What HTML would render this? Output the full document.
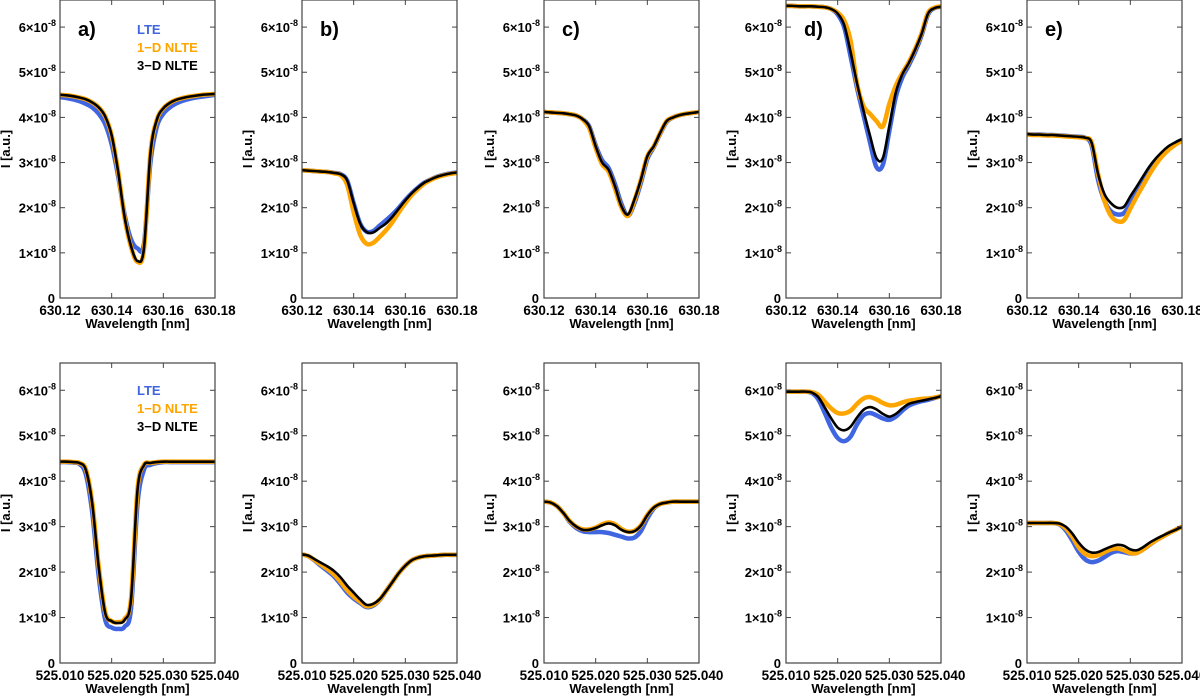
<!DOCTYPE html>
<html><head><meta charset="utf-8"><style>
html,body{margin:0;padding:0;background:#fff;}
svg{display:block;font-family:"Liberation Sans",Arial,sans-serif;font-weight:bold;}
</style></head><body>
<svg id="chart" width="1200" height="697" viewBox="0 0 1200 697" xmlns="http://www.w3.org/2000/svg"></svg>
<script>
// ---- data ----
const topWaveTicks = ["630.12","630.14","630.16","630.18"];
const botWaveTicks = ["525.010","525.020","525.030","525.040"];
const yTickValues = [0,1,2,3,4,5,6];
const topX = Array.from({length:25},(_,i)=>630.120+i*0.0025);
const botX = Array.from({length:25},(_,i)=>525.010+i*0.00125);
const panelLabels = ["a)","b)","c)","d)","e)"];
const legendNames = ["LTE","1\u2212D NLTE","3\u2212D NLTE"];

// top row (630 nm), units 1e-8
const aTopLTE = [4.45,4.43,4.40,4.36,4.30,4.22,4.08,3.85,3.40,2.70,1.85,1.30,1.10,1.20,3.00,3.80,4.08,4.22,4.31,4.37,4.41,4.44,4.46,4.48,4.50];
const aTop1D  = [4.50,4.49,4.47,4.44,4.40,4.33,4.22,4.02,3.60,2.80,1.78,1.13,0.80,1.08,3.20,3.95,4.20,4.32,4.39,4.43,4.46,4.48,4.50,4.51,4.52];
const aTop3D  = [4.50,4.49,4.47,4.44,4.40,4.33,4.22,4.02,3.60,2.80,1.80,1.15,0.82,1.10,3.20,3.95,4.20,4.32,4.39,4.43,4.46,4.48,4.50,4.51,4.52];
const bTopLTE = [2.83,2.82,2.81,2.80,2.79,2.77,2.74,2.60,2.10,1.65,1.47,1.48,1.60,1.72,1.85,2.00,2.17,2.32,2.45,2.56,2.63,2.69,2.73,2.76,2.78];
const bTop1D  = [2.83,2.82,2.81,2.80,2.79,2.76,2.72,2.50,1.90,1.40,1.20,1.22,1.35,1.50,1.68,1.90,2.10,2.28,2.42,2.54,2.62,2.68,2.72,2.75,2.77];
const bTop3D  = [2.83,2.82,2.81,2.80,2.79,2.77,2.74,2.60,2.10,1.65,1.46,1.45,1.55,1.65,1.80,1.98,2.16,2.32,2.45,2.56,2.63,2.69,2.73,2.76,2.78];
const cTopLTE = [4.12,4.11,4.10,4.09,4.07,4.04,3.96,3.80,3.38,3.05,2.88,2.52,2.08,1.82,2.10,2.55,3.08,3.34,3.64,3.90,4.00,4.05,4.08,4.10,4.12];
const cTop1D  = [4.12,4.11,4.10,4.09,4.07,4.04,3.95,3.76,3.32,2.96,2.80,2.42,2.00,1.82,2.16,2.62,3.14,3.36,3.66,3.92,4.00,4.05,4.08,4.10,4.12];
const cTop3D  = [4.12,4.11,4.10,4.09,4.07,4.04,3.96,3.80,3.36,3.00,2.84,2.47,2.03,1.85,2.18,2.62,3.14,3.36,3.66,3.92,4.00,4.05,4.08,4.10,4.12];
const dTopLTE = [6.47,6.47,6.46,6.46,6.46,6.45,6.44,6.40,6.28,6.00,5.35,4.65,4.05,3.45,2.90,2.95,3.70,4.45,4.88,5.15,5.45,5.82,6.28,6.42,6.45];
const dTop1D  = [6.47,6.47,6.46,6.46,6.46,6.45,6.44,6.40,6.32,6.15,5.70,4.75,4.25,4.08,3.92,3.80,4.30,4.70,4.98,5.22,5.52,5.87,6.32,6.43,6.46];
const dTop3D  = [6.47,6.47,6.46,6.46,6.46,6.45,6.44,6.40,6.30,6.05,5.45,4.75,4.15,3.60,3.10,3.10,3.80,4.55,4.95,5.20,5.50,5.85,6.30,6.42,6.45];
const eTopLTE = [3.63,3.62,3.62,3.61,3.61,3.60,3.59,3.58,3.57,3.55,3.38,2.62,2.15,1.92,1.85,1.88,2.10,2.35,2.60,2.84,3.04,3.20,3.33,3.43,3.50];
const eTop1D  = [3.62,3.61,3.61,3.60,3.60,3.59,3.58,3.57,3.56,3.54,3.45,2.75,2.15,1.82,1.70,1.72,1.98,2.25,2.50,2.75,2.97,3.15,3.29,3.40,3.48];
const eTop3D  = [3.63,3.62,3.62,3.61,3.61,3.60,3.59,3.58,3.57,3.55,3.44,2.75,2.30,2.10,2.00,2.02,2.25,2.47,2.70,2.92,3.10,3.25,3.37,3.45,3.52];

// bottom row (525 nm)
const aBotLTE = [4.42,4.42,4.41,4.38,4.15,3.30,1.90,0.95,0.78,0.75,0.80,1.20,3.50,4.25,4.36,4.40,4.42,4.42,4.42,4.42,4.42,4.42,4.42,4.42,4.42];
const aBot1D  = [4.43,4.43,4.42,4.40,4.26,3.52,2.12,1.12,0.92,0.90,0.97,1.42,3.82,4.36,4.40,4.42,4.43,4.43,4.43,4.43,4.43,4.43,4.43,4.43,4.43];
const aBot3D  = [4.43,4.43,4.42,4.40,4.25,3.50,2.10,1.10,0.92,0.88,0.95,1.40,3.80,4.35,4.40,4.42,4.43,4.43,4.43,4.43,4.43,4.43,4.43,4.43,4.43];
const bBotLTE = [2.39,2.35,2.25,2.13,2.02,1.90,1.73,1.55,1.42,1.32,1.23,1.26,1.38,1.58,1.78,1.98,2.14,2.26,2.32,2.35,2.36,2.37,2.38,2.38,2.38];
const bBot1D  = [2.39,2.35,2.26,2.16,2.06,1.94,1.78,1.60,1.46,1.35,1.25,1.28,1.39,1.58,1.78,1.98,2.14,2.26,2.32,2.35,2.36,2.37,2.38,2.38,2.38];
const bBot3D  = [2.39,2.36,2.28,2.20,2.12,2.02,1.88,1.70,1.55,1.40,1.28,1.30,1.40,1.58,1.78,1.98,2.14,2.26,2.32,2.35,2.36,2.37,2.38,2.38,2.38];
const cBotLTE = [3.55,3.53,3.45,3.30,3.10,2.97,2.90,2.88,2.88,2.88,2.86,2.82,2.78,2.74,2.76,2.90,3.18,3.40,3.50,3.53,3.55,3.55,3.55,3.55,3.55];
const cBot1D  = [3.55,3.53,3.45,3.30,3.12,3.00,2.94,2.94,2.98,3.05,3.09,3.05,2.95,2.89,2.91,3.03,3.26,3.42,3.50,3.53,3.55,3.55,3.55,3.55,3.55];
const cBot3D  = [3.55,3.53,3.45,3.30,3.12,3.00,2.93,2.93,2.97,3.03,3.07,3.03,2.93,2.88,2.90,3.02,3.25,3.42,3.50,3.53,3.55,3.55,3.55,3.55,3.55];
const dBotLTE = [5.97,5.97,5.97,5.97,5.94,5.80,5.50,5.18,4.95,4.88,4.98,5.25,5.45,5.50,5.45,5.38,5.35,5.42,5.55,5.66,5.72,5.76,5.79,5.83,5.87];
const dBot1D  = [5.97,5.97,5.97,5.97,5.96,5.90,5.75,5.60,5.50,5.49,5.55,5.70,5.82,5.85,5.80,5.72,5.67,5.68,5.73,5.77,5.79,5.81,5.82,5.84,5.87];
const dBot3D  = [5.97,5.97,5.97,5.97,5.95,5.85,5.62,5.38,5.18,5.12,5.20,5.40,5.57,5.63,5.58,5.48,5.42,5.48,5.60,5.70,5.74,5.77,5.80,5.83,5.87];
const eBotLTE = [3.08,3.08,3.08,3.08,3.08,3.05,2.92,2.70,2.45,2.28,2.22,2.25,2.33,2.42,2.46,2.44,2.41,2.42,2.50,2.60,2.70,2.78,2.86,2.93,3.00];
const eBot1D  = [3.08,3.08,3.08,3.08,3.08,3.06,2.96,2.78,2.55,2.40,2.35,2.37,2.44,2.50,2.52,2.48,2.42,2.42,2.50,2.61,2.70,2.78,2.86,2.93,3.00];
const eBot3D  = [3.08,3.08,3.08,3.08,3.08,3.07,3.00,2.85,2.65,2.50,2.43,2.44,2.50,2.56,2.60,2.58,2.50,2.48,2.55,2.65,2.73,2.80,2.87,2.93,3.00];

const topSeries = [[aTopLTE,aTop1D,aTop3D],[bTopLTE,bTop1D,bTop3D],[cTopLTE,cTop1D,cTop3D],[dTopLTE,dTop1D,dTop3D],[eTopLTE,eTop1D,eTop3D]];
const botSeries = [[aBotLTE,aBot1D,aBot3D],[bBotLTE,bBot1D,bBot3D],[cBotLTE,cBot1D,cBot3D],[dBotLTE,dBot1D,dBot3D],[eBotLTE,eBot1D,eBot3D]];

// ---- drawing ----
const NS="http://www.w3.org/2000/svg";
const svg=document.getElementById('chart');
function mk(tag,attrs,parent){const e=document.createElementNS(NS,tag);for(const k in attrs)e.setAttribute(k,attrs[k]);(parent||svg).appendChild(e);return e;}
const lefts=[60,302,544,786,1027];
const W=155, YMAX=6.6;
const colors=["#3f66e0","#ffa500","#000"];
const widths=[4.5,4.5,2.6];
const names=["lte","nlte-1d","nlte-3d"];

function smoothPath(pts){
  let d="M"+pts[0][0].toFixed(2)+","+pts[0][1].toFixed(2);
  for(let i=0;i<pts.length-1;i++){
    const p0=pts[Math.max(0,i-1)],p1=pts[i],p2=pts[i+1],p3=pts[Math.min(pts.length-1,i+2)];
    const c1x=p1[0]+(p2[0]-p0[0])/6,c1y=p1[1]+(p2[1]-p0[1])/6;
    const c2x=p2[0]-(p3[0]-p1[0])/6,c2y=p2[1]-(p3[1]-p1[1])/6;
    d+=" C"+c1x.toFixed(2)+","+c1y.toFixed(2)+" "+c2x.toFixed(2)+","+c2y.toFixed(2)+" "+p2[0].toFixed(2)+","+p2[1].toFixed(2);
  }
  return d;
}

function drawPanel(pi,row){
  const x0=lefts[pi], top=row===0?0:363, bot=row===0?298:663;
  const xs=row===0?topX:botX, xmin=xs[0], xmax=xs[xs.length-1];
  const ticks=row===0?topWaveTicks:botWaveTicks;
  const sx=v=>x0+(v-xmin)/(xmax-xmin)*W;
  const sy=v=>bot-v/YMAX*(bot-top);
  const g=mk('g',{});
  
  
  const cid='clip'+row+pi;
  const cp=mk('clipPath',{id:cid},g);mk('rect',{x:x0,y:top,width:W,height:bot-top},cp);
  const sets=row===0?topSeries[pi]:botSeries[pi];
  for(let s=0;s<3;s++){
    const pts=xs.map((xv,i)=>[sx(xv),sy(sets[s][i])]);
    const p=mk('path',{d:smoothPath(pts),fill:'none',stroke:colors[s],'stroke-width':widths[s],'stroke-linejoin':'round','clip-path':'url(#'+cid+')'},g);
    
    
  }
  const fr=mk('rect',{x:x0,y:top,width:W,height:bot-top,fill:'none',stroke:'#444','stroke-width':1.2},g);
  
  
  yTickValues.forEach(v=>{
    const y=sy(v);
    mk('line',{x1:x0,x2:x0+5,y1:y,y2:y,stroke:'#444','stroke-width':1},g);
    mk('line',{x1:x0+W-5,x2:x0+W,y1:y,y2:y,stroke:'#444','stroke-width':1},g);
    const t=mk('text',{x:x0-5,y:y+5,'text-anchor':'end','font-size':13},g);
    
    
    if(v===0){t.textContent='0';}
    else{
      t.setAttribute('x',x0-12);
      t.textContent=v+'\u00d710';
      const s=mk('text',{x:x0-12,y:y-1,'font-size':9},g);
      s.textContent='-8';
      
      
    }
  });
  ticks.forEach((lab,i)=>{
    const x=x0+i*W/3;
    mk('line',{x1:x,x2:x,y1:top,y2:top+5,stroke:'#444','stroke-width':1},g);
    mk('line',{x1:x,x2:x,y1:bot-5,y2:bot,stroke:'#444','stroke-width':1},g);
    const t=mk('text',{x:x,y:bot+17,'text-anchor':'middle','font-size':13.5},g);
    t.textContent=lab;
    
    
  });
  const xl=mk('text',{x:x0+W/2,y:bot+30,'text-anchor':'middle','font-size':13},g);
  xl.textContent='Wavelength [nm]';
  
  
  const yc=(top+bot)/2;
  const yl=mk('text',{x:x0-50,y:yc,'text-anchor':'middle','font-size':13,transform:'rotate(-90 '+(x0-50)+' '+yc+')'},g);
  yl.textContent='I [a.u.]';
  
  
  if(row===0){
    const pl=mk('text',{x:x0+18,y:36,'font-size':20},g);
    pl.textContent=panelLabels[pi];
    
    
  }
  if(pi===0){
    const base=row===0?34:395;
    legendNames.forEach((n,k)=>{
      const t=mk('text',{x:x0+77,y:base+k*18,'font-size':13,fill:colors[k]},g);
      t.textContent=n;
      
      
    });
  }
}
for(let r=0;r<2;r++)for(let p=0;p<5;p++)drawPanel(p,r);
</script>
</body></html>
